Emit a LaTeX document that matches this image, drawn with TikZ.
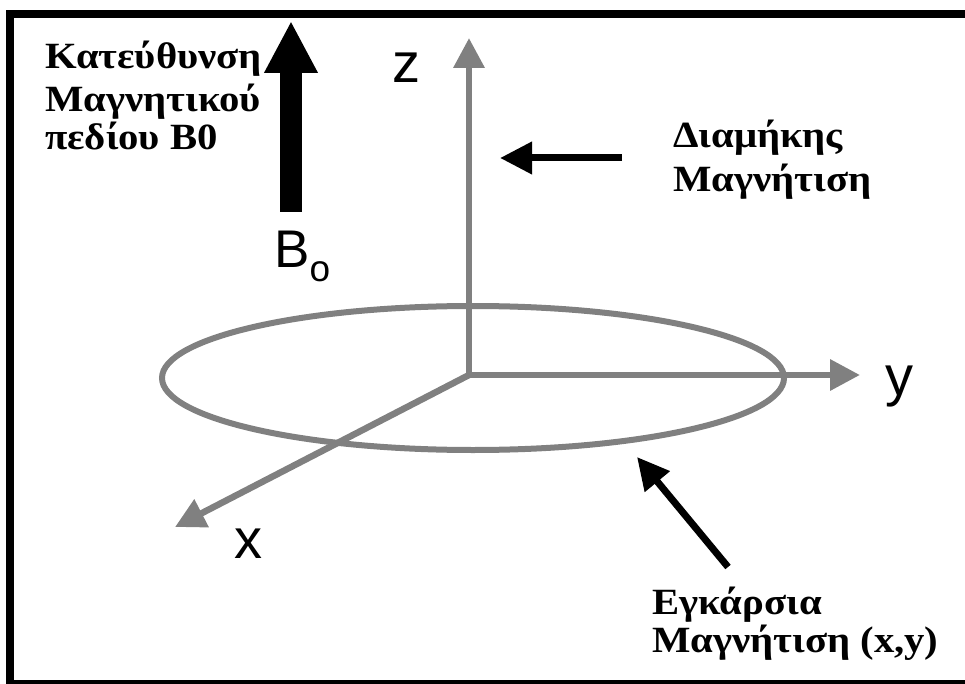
\documentclass[tikz,border=0pt]{standalone}
\usepackage{fontspec}
\setmainfont{Liberation Serif}
\newfontfamily\sansf{Liberation Sans}
\newfontfamily\labelfont[FakeStretch=1.1]{Liberation Serif Bold}
\usetikzlibrary{arrows.meta}
\definecolor{axisgray}{RGB}{128,128,128}
\tikzset{
  lbl/.style={font=\labelfont\fontsize{37}{42}\selectfont, inner sep=0pt, anchor=base west},
  axlbl/.style={font=\sansf\fontsize{56}{56}\selectfont, inner sep=0pt, anchor=base west},
  axis/.style={draw=axisgray, line width=6.5pt, -{Triangle[length=30pt,width=30pt]}},
  pointer/.style={draw=black, line width=7pt, -{Triangle[length=32pt,width=31pt]}},
  bigarrow/.style={draw=black, line width=22pt, -{Triangle[length=52pt,width=50pt]}}
}
\begin{document}
\begin{tikzpicture}[x=1pt,y=-1pt]
\useasboundingbox (0,0) rectangle (965,684);
% frame
\fill[black] (6,10) rectangle (965,18);
\fill[black] (6,10) rectangle (14,684);
\fill[black] (6,680) rectangle (965,684);

% coordinates
\coordinate (O) at (469,375);
\coordinate (ztip) at (469,38);
\coordinate (ytip) at (860,375);
\coordinate (xtip) at (175,527);
\coordinate (ec) at (473,378);

% ellipse
\draw[axisgray, line width=6pt] (ec) ellipse [x radius=311, y radius=72];

% axes
\draw[axis] (O) -- (ztip);
\draw[axis] (O) -- (ytip);
\draw[axis] (O) -- (xtip);

% B0 arrow
\coordinate (b0tail) at (291,212);
\coordinate (b0tip) at (291,21);
\draw[bigarrow] (b0tail) -- (b0tip);

% longitudinal pointer
\coordinate (ltail) at (622,158);
\coordinate (ltip) at (500,158);
\draw[pointer] (ltail) -- (ltip);

% transverse pointer
\coordinate (ttail) at (728,567);
\coordinate (ttip) at (637,457);
\draw[pointer] (ttail) -- (ttip);

% axis labels
\node[axlbl] (zl) at (392,83) {z};
\node[axlbl] (yl) at (885,395) {y};
\node[axlbl] (xl) at (234,558) {x};
\node[inner sep=0pt, anchor=base west, font=\sansf\fontsize{53}{53}\selectfont] (bo) at (274,268) {B\raisebox{-14pt}{\fontsize{37}{37}\selectfont o}};

% texts
\node[lbl] (t1) at (45,69) {Κατεύθυνση};
\node[lbl] (t2) at (45,112) {Μαγνητικού};
\node[lbl] (t3) at (45,150) {πεδίου B0};
\node[lbl] (d1) at (673,148) {Διαμήκης};
\node[lbl] (d2) at (673,192) {Μαγνήτιση};
\node[lbl] (e1) at (652,614) {Εγκάρσια};
\node[lbl] (e2) at (652,652) {Μαγνήτιση (x,y)};
\end{tikzpicture}
\end{document}
